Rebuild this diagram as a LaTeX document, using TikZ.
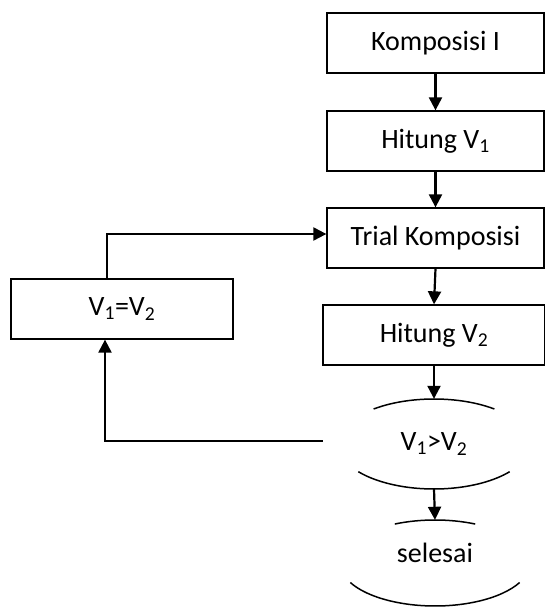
\documentclass[tikz,border=0pt]{standalone}
\usepackage{fontspec}
\setmainfont{Carlito}
\usetikzlibrary{arrows.meta,shapes.geometric}
\begin{document}
\begin{tikzpicture}[x=1pt,y=1pt,
  font=\fontsize{28}{34}\selectfont,
  box/.style={draw,line width=1.3pt,rectangle,minimum width=217pt,minimum height=60pt,inner sep=0pt},
  ell/.style={ellipse,draw=none,inner sep=0pt},
  arr/.style={line width=2.2pt,-{Triangle[length=13pt,width=13pt]}},
  arcline/.style={line width=1.5pt}]
\useasboundingbox (0,0) rectangle (545,608);
\node[box] (b1) at (435.5,565) {Komposisi I};
\node[box] (b2) at (435.5,467) {Hitung V\textsubscript{1}};
\node[box] (b3) at (435.5,370) {Trial Komposisi};
\node[box,minimum width=222pt] (b4) at (434,273) {Hitung V\textsubscript{2}};
\node[box,minimum width=222pt] (b5) at (122,299) {V\textsubscript{1}=V\textsubscript{2}};
\node[ell,minimum width=192pt,minimum height=90pt] (dec) at (434,164) {V\textsubscript{1}>V\textsubscript{2}};
\node[ell,minimum width=190pt,minimum height=86pt] (fin) at (435,45) {};
\node (fintext) at (435,55) {selesai};
% ellipse arcs
\draw[arcline] ([shift={(51:96pt and 45pt)}]dec.center) arc[start angle=51,end angle=129,x radius=96pt,y radius=45pt];
\draw[arcline] ([shift={(218:96pt and 45pt)}]dec.center) arc[start angle=218,end angle=322,x radius=96pt,y radius=45pt];
\draw[arcline] ([shift={(65:95pt and 43pt)}]fin.center) arc[start angle=65,end angle=115,x radius=95pt,y radius=43pt];
\draw[arcline] ([shift={(207:95pt and 43pt)}]fin.center) arc[start angle=207,end angle=333,x radius=95pt,y radius=43pt];
% connectors
\draw[arr] (b1.south) -- (b2.north);
\draw[arr] (b2.south) -- (b3.north);
\draw[arr] (b3.south) -- (b4.north);
\draw[arr] (b4.south) -- (dec.north);
\draw[arr] (dec.south) -- (fin.north);
\draw[arr] ([xshift=-15pt]b5.north) |- ([yshift=4pt]b3.west);
\draw[arr,shorten <=15pt] ([yshift=3pt]dec.west) -| ([xshift=-17pt]b5.south);
\end{tikzpicture}
\end{document}
